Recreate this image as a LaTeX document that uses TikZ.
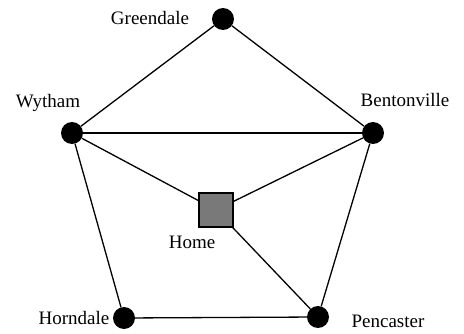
\documentclass[tikz,border=0pt]{standalone}
\usepackage{fontspec}
\setmainfont{Liberation Serif}
\begin{document}
\begin{tikzpicture}[x=1pt,y=-1pt,
  town/.style={circle,fill=black,inner sep=0pt,minimum size=22pt},
  homebox/.style={rectangle,draw=black,line width=1.3pt,fill=gray!95!black,inner sep=0pt,minimum size=34pt},
  road/.style={line width=1.3pt,black},
  lbl/.style={font=\fontsize{19}{22}\selectfont,inner sep=0pt}]
\useasboundingbox (0,0) rectangle (464,334);
\node[town] (g) at (223,19) {};
\node[town] (w) at (72,133) {};
\node[town] (b) at (373,133) {};
\node[homebox] (h) at (216,210) {};
\node[town] (ho) at (124,318) {};
\node[town] (p) at (318,317) {};
\draw[road] (g) -- (w);
\draw[road] (g) -- (b);
\draw[road] (w) -- (b);
\draw[road] (w) -- (h);
\draw[road] (b) -- (h);
\draw[road] (h) -- (p);
\draw[road] (w) -- (ho);
\draw[road] (b) -- (p);
\draw[road] (ho) -- (p);
\node[lbl] (lg) at (150,18) {Greendale};
\node[lbl] (lw) at (48,103) {Wytham};
\node[lbl] (lb) at (405,100) {Bentonville};
\node[lbl] (lh) at (192,242) {Home};
\node[lbl] (lho) at (74,318) {Horndale};
\node[lbl] (lp) at (388,321) {Pencaster};
\end{tikzpicture}
\end{document}
